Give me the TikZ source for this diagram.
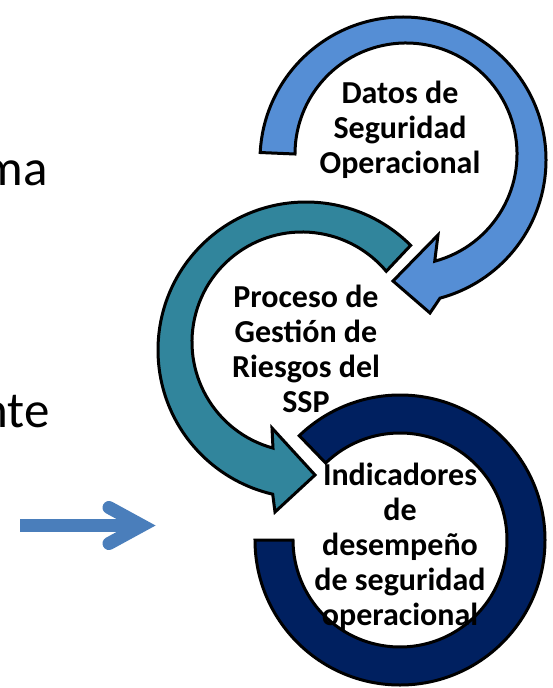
\documentclass[tikz,border=0pt]{standalone}
\usepackage{fontspec}
\setmainfont{Carlito}
\usetikzlibrary{calc}
\definecolor{ringblue}{HTML}{558ED5}
\definecolor{ringteal}{HTML}{31859C}
\definecolor{ringnavy}{HTML}{002060}
\definecolor{arrblue}{HTML}{4A7EBB}
\begin{document}
\begin{tikzpicture}[x=1pt,y=-1pt,
  ring/.style={draw=black,line width=3pt,line join=miter},
  circtext/.style={align=center,inner sep=0pt,anchor=north,
    font=\fontsize{32}{35}\selectfont\bfseries},
  sidetext/.style={inner sep=0pt,anchor=base east,
    font=\fontsize{51}{60}\selectfont}]
\useasboundingbox[fill=white] (0,0) rectangle (553,688);
% navy ring (no head)
\fill[ring,fill=ringnavy] ($(400,540)+(180:145)$) arc[start angle=180,end angle=-134,radius=145]
  -- ($(400,540)+(-134:107)$) arc[start angle=-134,end angle=180,radius=107] -- cycle;
% teal circular arrow
\fill[ring,fill=ringteal] ($(306,350)+(-45:148)$) arc[start angle=-45,end angle=-257,radius=148]
  -- (275,512) -- (315,475) -- (272,428)
  -- ($(302,342)+(-254.7:110)$) arc[start angle=-254.7,end angle=-40,radius=110] -- cycle;
% blue circular arrow
\fill[ring,fill=ringblue] ($(403,160)+(183:143)$) arc[start angle=183,end angle=435,radius=143]
  -- (430,313) -- (393,281) -- (438,235)
  -- ($(406,154)+(435:111)$) arc[start angle=435,end angle=180,radius=111] -- cycle;
% texts
\node[circtext] (t1) at (400,81) {Datos de\\Seguridad\\Operacional};
\node[circtext] (t2) at (306,285) {Proceso de\\Gestión de\\Riesgos del\\SSP};
\node[circtext] (t3) at (400,463) {Indicadores\\de\\desempeño\\de seguridad\\operacional};
\node[sidetext] (s1) at (48,185) {ma};
\node[sidetext] (s2) at (50,427) {nte};
% left arrow
\coordinate (aS) at (20,525.5);
\coordinate (aV) at (142,525.5);
\draw[arrblue,line width=13pt,line cap=butt] (aS) -- (aV);
\draw[arrblue,line width=13pt,line cap=round,line join=miter] ($(aV)+(-33,-18)$) -- (aV) -- ($(aV)+(-33,18)$);
\end{tikzpicture}
\end{document}
